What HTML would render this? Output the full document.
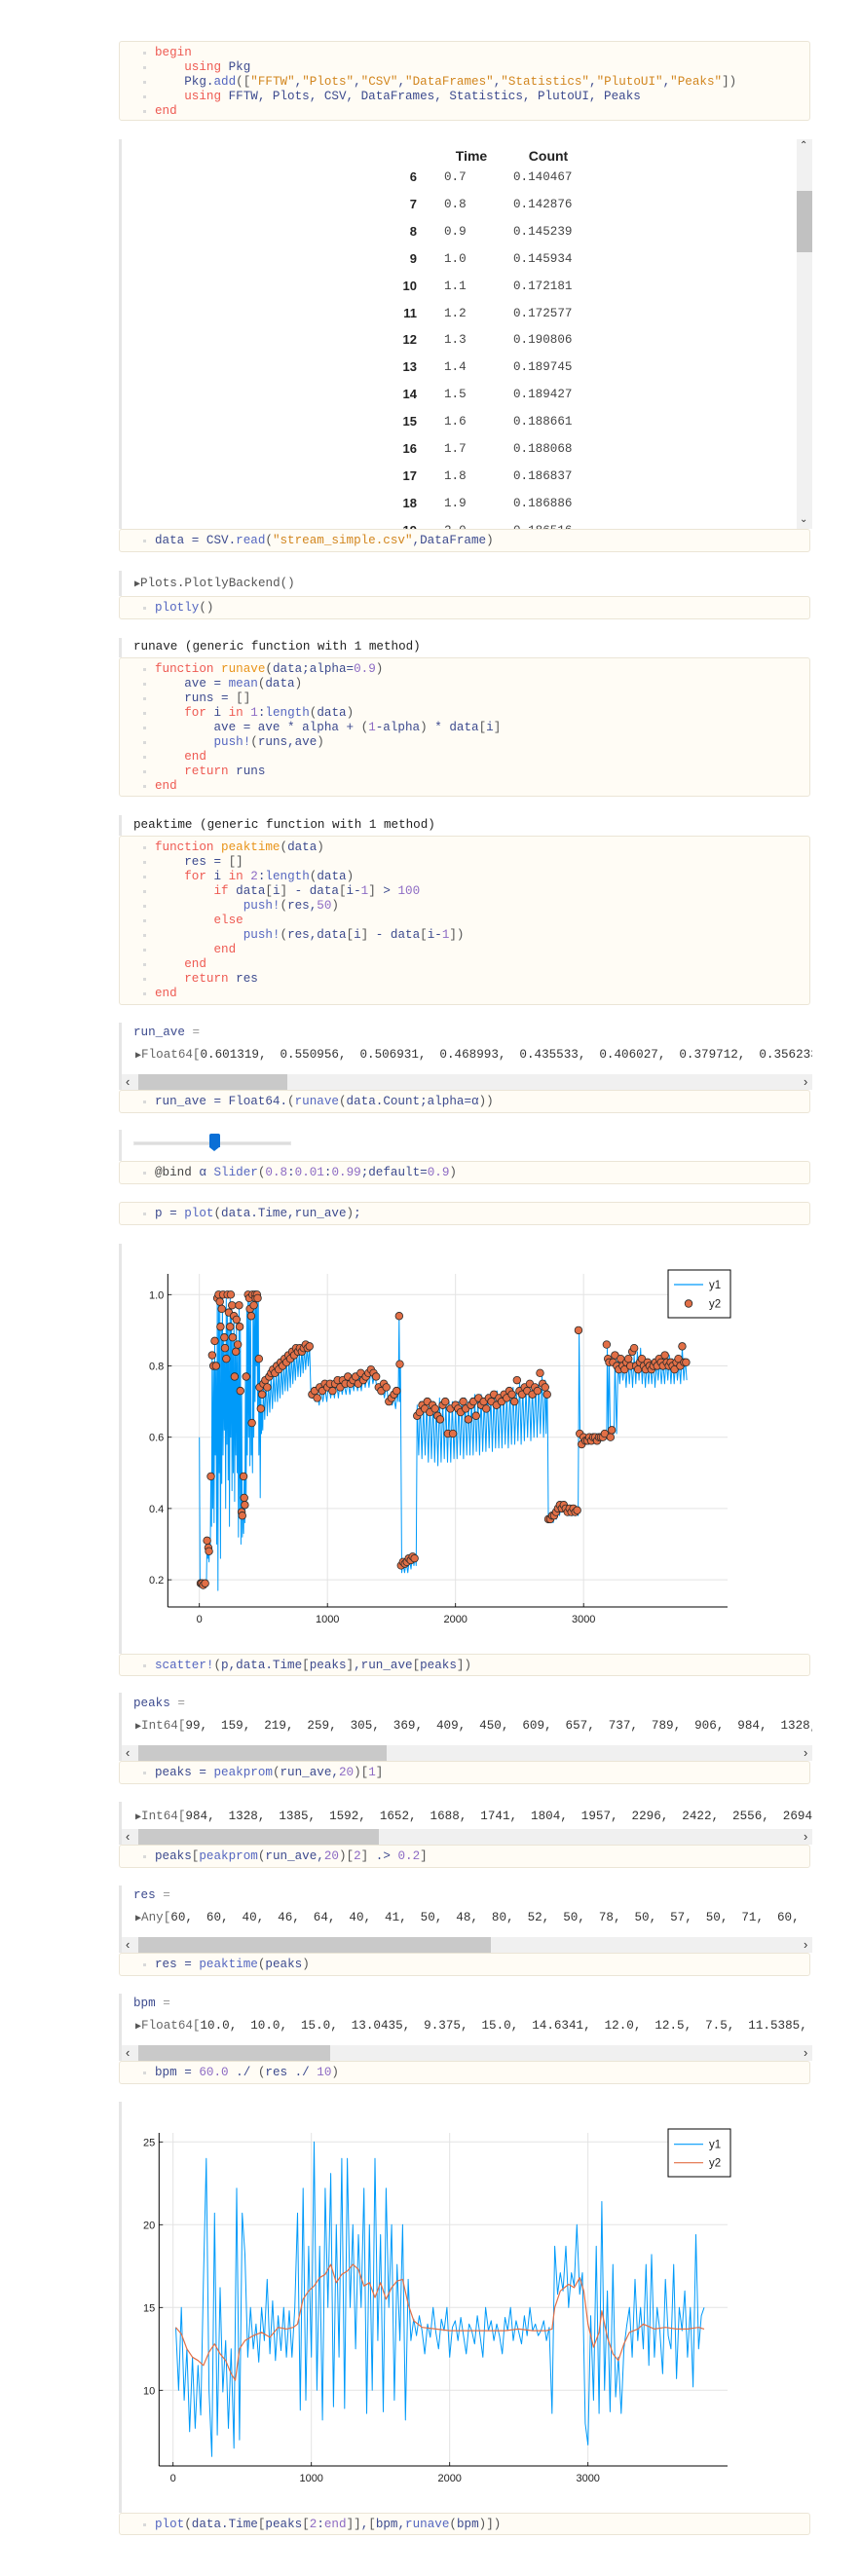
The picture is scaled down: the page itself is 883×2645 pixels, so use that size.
<!DOCTYPE html>
<html><head><meta charset="utf-8"><title>Pluto notebook</title>
<style>
html,body{margin:0;padding:0;background:#fff;}
body{width:883px;height:2645px;position:relative;overflow:hidden;font-family:"Liberation Mono",monospace;font-size:12.6px;color:#333;}
.cell{position:absolute;left:122px;width:712px;}
.out{position:absolute;left:0;width:709px;background:#fff;border-left:3px solid #e6e6e6;overflow:hidden;}
.code{position:absolute;left:0;width:710px;background:#fffcf5;border:1px solid #ebe5d6;border-radius:3px;}
.ln{position:relative;height:15px;line-height:15px;padding-left:36px;white-space:pre;color:#3c4a8e;}
.ln::before{content:"";position:absolute;left:24px;top:6px;width:3px;height:3px;background:#d9d9d9;}
.k{color:#ee5a52}.fn{color:#e8941a}.s{color:#d2861f}.n{color:#8d6bc4}.f{color:#5466c0}.o{color:#555}
.txt{position:absolute;left:10px;white-space:pre;line-height:15px;}
.tri{color:#555;font-size:10px;}
.arr{word-spacing:6.4px;color:#333;}
.hs{position:absolute;left:0;width:709px;height:16px;background:#f0f0f0;}
.hs .th{position:absolute;left:17px;top:0;height:16px;background:#c9c9c9;}
.hs .la,.hs .ra{position:absolute;top:0;font-family:"Liberation Sans",sans-serif;font-size:13px;line-height:15px;color:#333;}
.tr{position:absolute;font-family:"Liberation Sans",sans-serif;}
.ix{position:absolute;width:40px;text-align:right;font-family:"Liberation Sans",sans-serif;font-weight:bold;font-size:13px;color:#222;}
.tv{position:absolute;color:#444;}
svg text{font-family:"Liberation Sans",sans-serif;}
</style></head>
<body>

<!-- cell 1 -->
<div class="cell" style="top:42px;height:84px;">
 <div class="code" style="top:0;height:82px;padding-top:4px;box-sizing:border-box;">
  <div class="ln"><span class="k">begin</span></div>
  <div class="ln">    <span class="k">using</span> Pkg</div>
  <div class="ln">    Pkg.<span class="f">add</span><span class="o">([</span><span class="s">"FFTW"</span>,<span class="s">"Plots"</span>,<span class="s">"CSV"</span>,<span class="s">"DataFrames"</span>,<span class="s">"Statistics"</span>,<span class="s">"PlutoUI"</span>,<span class="s">"Peaks"</span><span class="o">])</span></div>
  <div class="ln">    <span class="k">using</span> FFTW, Plots, CSV, DataFrames, Statistics, PlutoUI, Peaks</div>
  <div class="ln"><span class="k">end</span></div>
 </div>
</div>

<!-- cell 2 table -->
<div class="cell" style="top:143px;height:426px;">
 <div class="out" style="top:0;height:400px;">
  <div class="tr" style="left:339px;top:9px;width:40px;text-align:center;font-weight:bold;font-size:14px;color:#222;">Time</div>
  <div class="tr" style="left:413px;top:9px;width:50px;text-align:center;font-weight:bold;font-size:14px;color:#222;">Count</div>
  <div id="rows"></div>
  <div style="position:absolute;left:693px;top:0;width:16px;height:400px;background:#f1f1f1;">
   <div style="position:absolute;left:0;top:53px;width:16px;height:63px;background:#c1c1c1;"></div>
   <div style="position:absolute;left:3px;top:1px;font-size:10px;font-family:'Liberation Sans',sans-serif;">&#8963;</div>
   <div style="position:absolute;left:3px;top:385px;font-size:10px;font-family:'Liberation Sans',sans-serif;">&#8964;</div>
  </div>
 </div>
 <div class="code" style="top:400px;height:24px;padding-top:4px;box-sizing:border-box;">
  <div class="ln">data = CSV.<span class="f">read</span><span class="o">(</span><span class="s">"stream_simple.csv"</span>,DataFrame<span class="o">)</span></div>
 </div>
</div>

<!-- cell 3 plotly -->
<div class="cell" style="top:586px;height:51px;">
 <div class="out" style="top:0;height:26px;">
  <div class="txt" style="top:6px;left:13px;color:#555;"><span class="tri">&#9654;</span>Plots.PlotlyBackend()</div>
 </div>
 <div class="code" style="top:26px;height:24px;padding-top:4px;box-sizing:border-box;">
  <div class="ln"><span class="f">plotly</span><span class="o">()</span></div>
 </div>
</div>

<!-- cell 4 runave -->
<div class="cell" style="top:655px;height:164px;">
 <div class="out" style="top:0;height:20px;">
  <div class="txt" style="top:2px;left:12px;color:#222;">runave (generic function with 1 method)</div>
 </div>
 <div class="code" style="top:20px;height:143px;padding-top:4px;box-sizing:border-box;">
  <div class="ln"><span class="k">function</span> <span class="fn">runave</span><span class="o">(</span>data;alpha=<span class="n">0.9</span><span class="o">)</span></div>
  <div class="ln">    ave = <span class="f">mean</span><span class="o">(</span>data<span class="o">)</span></div>
  <div class="ln">    runs = <span class="o">[]</span></div>
  <div class="ln">    <span class="k">for</span> i <span class="k">in</span> <span class="n">1</span>:<span class="f">length</span><span class="o">(</span>data<span class="o">)</span></div>
  <div class="ln">        ave = ave * alpha + <span class="o">(</span><span class="n">1</span>-alpha<span class="o">)</span> * data<span class="o">[</span>i<span class="o">]</span></div>
  <div class="ln">        <span class="f">push!</span><span class="o">(</span>runs,ave<span class="o">)</span></div>
  <div class="ln">    <span class="k">end</span></div>
  <div class="ln">    <span class="k">return</span> runs</div>
  <div class="ln"><span class="k">end</span></div>
 </div>
</div>

<!-- cell 5 peaktime -->
<div class="cell" style="top:837px;height:196px;">
 <div class="out" style="top:0;height:21px;">
  <div class="txt" style="top:3px;left:12px;color:#222;">peaktime (generic function with 1 method)</div>
 </div>
 <div class="code" style="top:21px;height:174px;padding-top:4px;box-sizing:border-box;">
  <div class="ln"><span class="k">function</span> <span class="fn">peaktime</span><span class="o">(</span>data<span class="o">)</span></div>
  <div class="ln">    res = <span class="o">[]</span></div>
  <div class="ln">    <span class="k">for</span> i <span class="k">in</span> <span class="n">2</span>:<span class="f">length</span><span class="o">(</span>data<span class="o">)</span></div>
  <div class="ln">        <span class="k">if</span> data<span class="o">[</span>i<span class="o">]</span> - data<span class="o">[</span>i-<span class="n">1</span><span class="o">]</span> &gt; <span class="n">100</span></div>
  <div class="ln">            <span class="f">push!</span><span class="o">(</span>res,<span class="n">50</span><span class="o">)</span></div>
  <div class="ln">        <span class="k">else</span></div>
  <div class="ln">            <span class="f">push!</span><span class="o">(</span>res,data<span class="o">[</span>i<span class="o">]</span> - data<span class="o">[</span>i-<span class="n">1</span><span class="o">])</span></div>
  <div class="ln">        <span class="k">end</span></div>
  <div class="ln">    <span class="k">end</span></div>
  <div class="ln">    <span class="k">return</span> res</div>
  <div class="ln"><span class="k">end</span></div>
 </div>
</div>

<!-- cell 6 run_ave -->
<div class="cell" style="top:1050px;height:93px;">
 <div class="out" style="top:0;height:69px;">
  <div class="txt" style="top:3px;left:12px;color:#3c4a8e;">run_ave <span style="color:#999">=</span></div>
  <div class="txt" style="top:26px;left:14px;"><span class="tri">&#9654;</span><span style="color:#666">Float64[</span><span class="arr">0.601319, 0.550956, 0.506931, 0.468993, 0.435533, 0.406027, 0.379712, 0.356233, 0.335</span></div>
  <div class="hs" style="top:53px;"><span class="la" style="left:4px">&#8249;</span><div class="th" style="width:153px"></div><span class="ra" style="left:700px">&#8250;</span></div>
 </div>
 <div class="code" style="top:69px;height:24px;padding-top:4px;box-sizing:border-box;">
  <div class="ln">run_ave = Float64.<span class="o">(</span><span class="f">runave</span><span class="o">(</span>data.Count;alpha=α<span class="o">))</span></div>
 </div>
</div>

<!-- cell 7 slider -->
<div class="cell" style="top:1160px;height:57px;">
 <div class="out" style="top:0;height:32px;">
  <div style="position:absolute;left:12px;top:12px;width:160px;height:2px;background:#ddd;border:1px solid #e8e8e8;"></div>
  <div style="position:absolute;left:90px;top:4px;width:11px;height:14px;background:#0a6fd6;border-radius:2px 2px 0 0;"></div>
  <div style="position:absolute;left:90px;top:18px;width:0;height:0;border-left:5.5px solid transparent;border-right:5.5px solid transparent;border-top:4px solid #0a6fd6;"></div>
 </div>
 <div class="code" style="top:32px;height:24px;padding-top:4px;box-sizing:border-box;">
  <div class="ln"><span style="color:#444">@bind</span> α <span class="f">Slider</span><span class="o">(</span><span class="n">0.8</span>:<span class="n">0.01</span>:<span class="n">0.99</span>;default=<span class="n">0.9</span><span class="o">)</span></div>
 </div>
</div>

<!-- cell 8 p=plot -->
<div class="cell" style="top:1234px;height:25px;">
 <div class="code" style="top:0;height:24px;padding-top:4px;box-sizing:border-box;">
  <div class="ln">p = <span class="f">plot</span><span class="o">(</span>data.Time,run_ave<span class="o">)</span>;</div>
 </div>
</div>

<!-- cell 9 chart1 -->
<div class="cell" style="top:1277px;height:445px;">
 <div class="out" style="top:0;height:421px;"></div>
 <div class="code" style="top:421px;height:23px;padding-top:4px;box-sizing:border-box;">
  <div class="ln"><span class="f">scatter!</span><span class="o">(</span>p,data.Time<span class="o">[</span>peaks<span class="o">]</span>,run_ave<span class="o">[</span>peaks<span class="o">])</span></div>
 </div>
</div>

<!-- cell 10 peaks -->
<div class="cell" style="top:1738px;height:95px;">
 <div class="out" style="top:0;height:70px;">
  <div class="txt" style="top:4px;left:12px;color:#3c4a8e;">peaks <span style="color:#999">=</span></div>
  <div class="txt" style="top:27px;left:14px;"><span class="tri">&#9654;</span><span style="color:#666">Int64[</span><span class="arr">99, 159, 219, 259, 305, 369, 409, 450, 609, 657, 737, 789, 906, 984, 1328,</span></div>
  <div class="hs" style="top:54px;"><span class="la" style="left:4px">&#8249;</span><div class="th" style="width:255px"></div><span class="ra" style="left:700px">&#8250;</span></div>
 </div>
 <div class="code" style="top:70px;height:24px;padding-top:4px;box-sizing:border-box;">
  <div class="ln">peaks = <span class="f">peakprom</span><span class="o">(</span>run_ave,<span class="n">20</span><span class="o">)[</span><span class="n">1</span><span class="o">]</span></div>
 </div>
</div>

<!-- cell 11 filtered -->
<div class="cell" style="top:1850px;height:69px;">
 <div class="out" style="top:0;height:44px;">
  <div class="txt" style="top:8px;left:14px;"><span class="tri">&#9654;</span><span style="color:#666">Int64[</span><span class="arr">984, 1328, 1385, 1592, 1652, 1688, 1741, 1804, 1957, 2296, 2422, 2556, 2694,</span></div>
  <div class="hs" style="top:28px;"><span class="la" style="left:4px">&#8249;</span><div class="th" style="width:247px"></div><span class="ra" style="left:700px">&#8250;</span></div>
 </div>
 <div class="code" style="top:44px;height:24px;padding-top:4px;box-sizing:border-box;">
  <div class="ln">peaks<span class="o">[</span><span class="f">peakprom</span><span class="o">(</span>run_ave,<span class="n">20</span><span class="o">)[</span><span class="n">2</span><span class="o">]</span> .&gt; <span class="n">0.2</span><span class="o">]</span></div>
 </div>
</div>

<!-- cell 12 res -->
<div class="cell" style="top:1936px;height:94px;">
 <div class="out" style="top:0;height:69px;">
  <div class="txt" style="top:3px;left:12px;color:#3c4a8e;">res <span style="color:#999">=</span></div>
  <div class="txt" style="top:26px;left:14px;"><span class="tri">&#9654;</span><span style="color:#666">Any[</span><span class="arr">60, 60, 40, 46, 64, 40, 41, 50, 48, 80, 52, 50, 78, 50, 57, 50, 71, 60, 38,</span></div>
  <div class="hs" style="top:53px;"><span class="la" style="left:4px">&#8249;</span><div class="th" style="width:362px"></div><span class="ra" style="left:700px">&#8250;</span></div>
 </div>
 <div class="code" style="top:69px;height:24px;padding-top:4px;box-sizing:border-box;">
  <div class="ln">res = <span class="f">peaktime</span><span class="o">(</span>peaks<span class="o">)</span></div>
 </div>
</div>

<!-- cell 13 bpm -->
<div class="cell" style="top:2047px;height:94px;">
 <div class="out" style="top:0;height:69px;">
  <div class="txt" style="top:3px;left:12px;color:#3c4a8e;">bpm <span style="color:#999">=</span></div>
  <div class="txt" style="top:26px;left:14px;"><span class="tri">&#9654;</span><span style="color:#666">Float64[</span><span class="arr">10.0, 10.0, 15.0, 13.0435, 9.375, 15.0, 14.6341, 12.0, 12.5, 7.5, 11.5385,</span></div>
  <div class="hs" style="top:53px;"><span class="la" style="left:4px">&#8249;</span><div class="th" style="width:197px"></div><span class="ra" style="left:700px">&#8250;</span></div>
 </div>
 <div class="code" style="top:69px;height:24px;padding-top:4px;box-sizing:border-box;">
  <div class="ln">bpm = <span class="n">60.0</span> ./ <span class="o">(</span>res ./ <span class="n">10</span><span class="o">)</span></div>
 </div>
</div>

<!-- cell 14 chart2 -->
<div class="cell" style="top:2158px;height:446px;">
 <div class="out" style="top:0;height:422px;"></div>
 <div class="code" style="top:422px;height:23px;padding-top:4px;box-sizing:border-box;">
  <div class="ln"><span class="f">plot</span><span class="o">(</span>data.Time<span class="o">[</span>peaks<span class="o">[</span><span class="n">2</span>:<span class="n">end</span><span class="o">]]</span>,<span class="o">[</span>bpm,<span class="f">runave</span><span class="o">(</span>bpm<span class="o">)])</span></div>
 </div>
</div>

<svg id="charts" width="883" height="2645" style="position:absolute;left:0;top:0;pointer-events:none;"></svg>

<script>
// ---- table data ----
const rowIdx = [6,7,8,9,10,11,12,13,14,15,16,17,18,19];
const rowTime = ["0.7","0.8","0.9","1.0","1.1","1.2","1.3","1.4","1.5","1.6","1.7","1.8","1.9","2.0"];
const rowCount = ["0.140467","0.142876","0.145239","0.145934","0.172181","0.172577","0.190806","0.189745","0.189427","0.188661","0.188068","0.186837","0.186886","0.186516"];

// ---- chart 1 data ----
const c1Times = [0,10,20,30,40,50,60,70,80,90,100,110,120,130,140,150,160,170,180,190,200,210,220,230,240,250,260,270,280,290,300,310,320,330,340,350,360,370,380,390,400,410,420,430,440,450,460,470,480,490,500,520,540,560,580,600,620,640,660,680,700,720,740,760,780,800,820,840,860,870,890,920,950,980,1010,1040,1070,1100,1130,1160,1190,1220,1250,1280,1310,1340,1370,1400,1430,1460,1490,1520,1545,1560,1570,1590,1615,1640,1665,1685,1700,1725,1750,1775,1800,1825,1850,1875,1900,1925,1950,1975,2000,2025,2050,2075,2100,2125,2150,2175,2200,2225,2250,2275,2300,2325,2350,2375,2400,2425,2450,2475,2500,2525,2550,2575,2600,2625,2650,2675,2700,2715,2725,2750,2775,2800,2825,2850,2875,2900,2925,2950,2965,2980,3005,3030,3055,3080,3105,3130,3155,3175,3185,3200,3215,3230,3245,3270,3295,3320,3345,3370,3395,3420,3445,3470,3495,3520,3545,3570,3595,3620,3645,3670,3695,3720,3745,3770,3795];
const c1High = [.60,.19,.19,.19,.19,.19,.31,.29,.30,.49,.83,.80,.87,.80,.99,1.0,.98,.91,1.0,.88,.85,1.0,.95,.91,1.0,.97,.88,.94,.84,.92,.86,.97,.91,.73,.42,.49,.77,.96,1.0,.99,.95,.64,1.0,.98,1.0,.99,1.0,.82,.72,.68,.75,.76,.75,.77,.78,.78,.79,.80,.80,.82,.82,.83,.83,.84,.84,.85,.85,.85,.86,.73,.72,.73,.74,.74,.75,.75,.76,.76,.75,.76,.76,.77,.77,.78,.78,.79,.78,.75,.74,.75,.72,.71,.73,.94,.80,.25,.25,.26,.27,.27,.69,.70,.69,.70,.70,.70,.69,.71,.70,.70,.70,.70,.69,.70,.70,.71,.70,.71,.72,.71,.72,.71,.72,.72,.72,.73,.72,.73,.73,.73,.74,.73,.76,.74,.74,.75,.74,.75,.75,.78,.76,.75,.38,.38,.39,.40,.41,.41,.40,.40,.40,.40,.90,.61,.60,.60,.60,.60,.61,.61,.61,.62,.86,.82,.62,.62,.82,.82,.81,.81,.82,.82,.83,.84,.85,.82,.81,.81,.82,.81,.82,.81,.82,.83,.82,.82,.81,.85,.82];
const c1Low = [.19,.19,.18,.18,.18,.18,.26,.25,.27,.35,.40,.36,.55,.30,.17,.50,.26,.47,.55,.62,.40,.58,.48,.35,.60,.45,.50,.42,.55,.50,.32,.40,.30,.32,.33,.36,.40,.55,.60,.52,.55,.50,.60,.70,.80,.68,.55,.43,.61,.62,.65,.66,.67,.68,.70,.70,.71,.72,.73,.73,.74,.75,.76,.77,.77,.78,.79,.80,.80,.71,.70,.69,.70,.70,.71,.71,.71,.72,.72,.72,.73,.73,.73,.74,.74,.75,.74,.72,.71,.70,.69,.68,.70,.70,.22,.22,.22,.23,.24,.24,.55,.54,.55,.53,.54,.53,.52,.53,.54,.53,.53,.54,.54,.55,.54,.55,.55,.55,.56,.55,.56,.56,.57,.56,.57,.57,.57,.58,.57,.58,.58,.59,.58,.59,.60,.59,.60,.60,.61,.60,.61,.62,.36,.36,.37,.38,.39,.39,.38,.38,.38,.38,.60,.58,.58,.58,.59,.59,.59,.59,.60,.60,.62,.63,.60,.61,.61,.75,.76,.74,.75,.74,.75,.76,.75,.74,.75,.75,.74,.76,.75,.75,.76,.75,.75,.76,.75,.76,.76];
const c1PeakTimes = [10,20,30,45,60,70,75,90,100,110,120,130,140,150,160,165,175,185,195,200,210,220,230,240,245,255,260,270,275,285,290,300,310,315,320,330,335,345,350,355,365,380,390,395,405,410,415,425,435,440,450,455,465,470,480,490,500,515,530,545,560,575,590,605,620,635,650,665,680,695,710,725,740,755,770,785,800,815,830,845,860,880,900,920,940,960,980,1000,1020,1040,1060,1080,1100,1120,1140,1160,1180,1200,1220,1240,1260,1280,1300,1320,1340,1360,1380,1400,1420,1440,1460,1480,1500,1520,1540,1560,1565,1575,1590,1605,1620,1635,1650,1665,1680,1700,1720,1740,1760,1780,1800,1820,1840,1860,1880,1900,1920,1940,1960,1980,2000,2020,2040,2060,2080,2100,2120,2140,2160,2180,2200,2220,2240,2260,2280,2300,2320,2340,2360,2380,2400,2420,2440,2460,2480,2500,2520,2540,2560,2580,2600,2620,2640,2660,2680,2700,2715,2725,2740,2755,2770,2785,2800,2815,2830,2845,2860,2875,2890,2905,2920,2935,2950,2960,2970,2985,3000,3015,3030,3045,3060,3075,3090,3105,3120,3135,3150,3165,3180,3190,3200,3210,3220,3230,3245,3260,3275,3290,3305,3320,3335,3350,3365,3380,3395,3410,3425,3440,3455,3470,3485,3500,3515,3530,3545,3560,3575,3590,3605,3620,3635,3650,3665,3680,3695,3710,3725,3740,3755,3770,3785,3800];
const c1PeakVals = [.19,.19,.185,.19,.31,.29,.28,.49,.83,.80,.87,.80,.99,1.0,.98,.91,.96,1.0,.88,.85,.82,1.0,.95,.91,1.0,.97,.88,.94,.77,.84,.93,.86,.97,.91,.73,.39,.38,.49,.43,.41,.77,1.0,.99,.96,.94,.64,1.0,.97,1.0,.99,1.0,.99,.82,.74,.68,.72,.75,.76,.74,.77,.78,.79,.78,.80,.79,.81,.80,.82,.81,.83,.82,.84,.83,.85,.84,.85,.84,.85,.86,.85,.855,.72,.73,.71,.74,.73,.75,.74,.75,.73,.75,.76,.74,.76,.75,.77,.75,.76,.77,.75,.78,.76,.77,.78,.79,.78,.77,.74,.73,.75,.74,.70,.71,.72,.73,.94,.805,.24,.25,.245,.25,.26,.255,.265,.26,.66,.67,.69,.68,.70,.67,.69,.68,.66,.65,.69,.70,.61,.68,.61,.69,.68,.67,.70,.68,.65,.69,.70,.66,.71,.69,.70,.68,.71,.70,.72,.69,.71,.70,.72,.71,.73,.72,.70,.76,.73,.72,.74,.73,.75,.72,.74,.73,.78,.75,.74,.72,.37,.37,.38,.38,.39,.40,.41,.40,.41,.40,.39,.40,.39,.40,.39,.395,.90,.61,.58,.60,.59,.59,.60,.59,.60,.60,.59,.60,.60,.60,.61,.86,.82,.81,.60,.62,.81,.83,.80,.79,.82,.80,.79,.81,.82,.80,.84,.85,.80,.79,.81,.82,.80,.79,.81,.80,.79,.80,.81,.80,.82,.81,.80,.83,.81,.80,.81,.80,.79,.81,.82,.80,.855,.81,.81];
const c1XTicks = [0,1000,2000,3000];
const c1XTickLabels = ["0","1000","2000","3000"];
const c1YTicks = [0.2,0.4,0.6,0.8,1.0];
const c1YTickLabels = ["0.2","0.4","0.6","0.8","1.0"];

// ---- chart 2 data ----
const c2Times = [20,40,60,80,100,120,140,160,180,200,220,240,260,280,300,320,340,360,380,400,420,440,460,480,500,520,540,560,580,600,620,640,660,680,700,720,740,760,780,800,820,840,860,880,900,920,940,960,980,1000,1020,1040,1060,1080,1100,1120,1140,1160,1180,1200,1220,1240,1260,1280,1300,1320,1340,1360,1380,1400,1420,1440,1460,1480,1500,1520,1540,1560,1580,1600,1620,1640,1660,1680,1700,1720,1740,1760,1780,1800,1820,1840,1860,1880,1900,1920,1940,1960,1980,2000,2020,2040,2060,2080,2100,2120,2140,2160,2180,2200,2220,2240,2260,2280,2300,2320,2340,2360,2380,2400,2420,2440,2460,2480,2500,2520,2540,2560,2580,2600,2620,2640,2660,2680,2700,2720,2740,2760,2780,2800,2820,2840,2860,2880,2900,2920,2940,2960,2980,3000,3020,3040,3060,3080,3100,3120,3140,3160,3180,3200,3220,3240,3260,3280,3300,3320,3340,3360,3380,3400,3420,3440,3460,3480,3500,3520,3540,3560,3580,3600,3620,3640,3660,3680,3700,3720,3740,3760,3780,3800,3820,3840];
const c2Bpm = [13.8,10.0,15.0,9.4,12.5,7.5,12.0,7.7,11.5,8.5,16.7,24.0,10.0,6.0,20.7,7.3,16.2,9.9,13.0,7.7,12.5,6.5,22.2,7.0,20.7,18.2,12.0,15.0,12.5,14.0,11.7,15.0,13.0,16.7,12.2,15.4,11.8,14.5,12.4,15.0,12.0,14.8,12.0,15.0,20.7,8.8,22.2,9.4,18.7,12.0,25.0,10.0,18.7,8.2,22.2,15.0,23.1,9.0,20.0,12.0,24.0,8.9,24.0,15.0,20.0,12.5,19.4,15.0,22.2,8.6,20.0,10.0,24.0,13.0,19.4,8.7,22.2,15.0,20.0,9.4,17.6,13.0,20.0,8.2,16.7,13.0,14.3,13.3,14.5,13.6,12.2,14.0,13.2,15.0,13.5,12.5,14.3,13.6,15.0,12.0,13.8,14.2,13.0,14.4,13.3,12.2,14.0,13.6,12.8,14.5,13.3,12.0,15.0,13.6,14.2,13.0,14.0,13.3,12.2,14.4,13.6,15.0,13.0,14.2,13.5,12.8,14.5,13.3,15.0,13.6,14.0,13.3,13.6,14.2,13.0,13.8,8.6,18.7,15.8,17.1,16.0,18.7,15.0,17.1,16.3,20.0,15.8,17.1,8.0,6.7,14.5,9.4,18.7,8.6,21.4,10.0,16.0,8.7,17.6,9.6,12.0,8.6,12.5,13.9,15.0,12.0,16.7,13.0,15.0,12.5,17.6,11.5,18.2,12.0,15.0,13.6,11.0,16.7,13.3,12.5,17.6,10.7,15.0,13.6,16.0,12.0,15.0,10.2,19.4,12.5,14.5,15.0];
const c2AvgTimes = [20,60,100,140,180,220,260,300,340,380,420,450,480,520,580,640,700,760,820,870,900,940,980,1020,1060,1100,1140,1180,1220,1260,1300,1340,1380,1420,1460,1500,1540,1580,1620,1660,1700,1740,1800,1900,2000,2100,2200,2300,2400,2500,2600,2700,2740,2760,2800,2860,2900,2940,2970,3000,3040,3080,3100,3140,3180,3220,3260,3300,3360,3400,3480,3560,3640,3720,3800,3840];
const c2Avg = [13.8,13.4,12.5,12.0,11.8,11.5,12.3,12.8,12.2,11.8,11.0,10.6,12.5,13.0,13.3,13.5,13.2,13.8,13.7,13.8,14.0,15.5,16.0,16.3,16.8,17.0,17.6,16.5,17.0,17.2,17.6,17.3,16.3,16.5,15.6,16.5,15.5,16.2,16.6,16.7,15.2,14.2,13.8,13.7,13.6,13.6,13.6,13.6,13.6,13.7,13.6,13.6,13.7,15.0,16.0,16.4,16.2,16.8,16.0,14.0,12.6,13.5,14.8,13.2,12.2,11.8,12.8,13.5,13.7,14.0,13.7,13.8,13.7,13.7,13.8,13.7];
const c2XTicks = [0,1000,2000,3000];
const c2XTickLabels = ["0","1000","2000","3000"];
const c2YTicks = [10,15,20,25];
const c2YTickLabels = ["10","15","20","25"];

// ---- table rendering ----
const rowsEl = document.getElementById('rows');
for (let i = 0; i < rowIdx.length; i++) {
  const top = 31 + i * 27.9;
  const a = document.createElement('div');
  a.className = 'ix';
  a.style.left = '263px'; a.style.top = (top) + 'px';
  a.textContent = rowIdx[i];
  
  
  rowsEl.appendChild(a);
  const b = document.createElement('div');
  b.className = 'tv';
  b.style.left = '331px'; b.style.top = (top + 1) + 'px';
  b.textContent = rowTime[i];
  
  
  rowsEl.appendChild(b);
  const c = document.createElement('div');
  c.className = 'tv';
  c.style.left = '402px'; c.style.top = (top + 1) + 'px';
  c.textContent = rowCount[i];
  
  
  rowsEl.appendChild(c);
}

// ---- chart helpers ----
const svg = document.getElementById('charts');
const NS = 'http://www.w3.org/2000/svg';
function mk(tag, attrs) {
  const e = document.createElementNS(NS, tag);
  for (const k in attrs) e.setAttribute(k, attrs[k]);
  svg.appendChild(e);
  return e;
}

function drawFrame(cfg) {
  // gridlines
  cfg.xTicks.forEach((t, i) => {
    const x = cfg.X(t);
    const g = mk('line', {x1: x, x2: x, y1: cfg.top, y2: cfg.bottom, stroke: '#e3e3e3', 'stroke-width': 1});
    
    
    const tk = mk('line', {x1: x, x2: x, y1: cfg.bottom, y2: cfg.bottom - 4, stroke: '#000', 'stroke-width': 0.8});
    
    
    const lb = mk('text', {x: x, y: cfg.bottom + 16, 'text-anchor': 'middle', 'font-size': 11, fill: '#222'});
    lb.textContent = cfg.xLabels[i];
    
    
  });
  cfg.yTicks.forEach((v, i) => {
    const y = cfg.Y(v);
    const g = mk('line', {x1: cfg.left, x2: cfg.right, y1: y, y2: y, stroke: '#e3e3e3', 'stroke-width': 1});
    
    
    const tk = mk('line', {x1: cfg.left, x2: cfg.left + 4, y1: y, y2: y, stroke: '#000', 'stroke-width': 0.8});
    
    
    const lb = mk('text', {x: cfg.left - 4, y: y + 4, 'text-anchor': 'end', 'font-size': 11, fill: '#222'});
    lb.textContent = cfg.yLabels[i];
    
    
  });
}
function drawAxes(cfg) {
  const ax = mk('line', {x1: cfg.left, x2: cfg.right, y1: cfg.bottom, y2: cfg.bottom, stroke: '#000', 'stroke-width': 1});
  
  
  const ay = mk('line', {x1: cfg.left, x2: cfg.left, y1: cfg.top, y2: cfg.bottom, stroke: '#000', 'stroke-width': 1});
  
  
}

// ---- chart 1 ----
const C1 = {left: 172.3, right: 747, top: 1308, bottom: 1650,
  X: t => 204.7 + t * 0.1315, Y: v => 1329.3 + (1 - v) * 366,
  xTicks: c1XTicks, xLabels: c1XTickLabels, yTicks: c1YTicks, yLabels: c1YTickLabels};
drawFrame(C1);
let pts1 = [];
for (let i = 0; i < c1Times.length; i++) {
  const t = c1Times[i];
  const nt = i + 1 < c1Times.length ? c1Times[i + 1] : t + 20;
  pts1.push(C1.X(t).toFixed(1) + ',' + C1.Y(c1High[i]).toFixed(1));
  pts1.push(C1.X((t + nt) / 2).toFixed(1) + ',' + C1.Y(c1Low[i]).toFixed(1));
}
const line1 = mk('polyline', {points: pts1.join(' '), fill: 'none', stroke: '#009af9', 'stroke-width': 1, 'stroke-linejoin': 'round'});


for (let i = 0; i < c1PeakTimes.length; i++) {
  const c = mk('circle', {cx: C1.X(c1PeakTimes[i]), cy: C1.Y(c1PeakVals[i]), r: 3.8, fill: '#e26f46', stroke: '#2a2a2a', 'stroke-width': 0.8});
  
  
}
drawAxes(C1);
// legend 1
const lg1 = mk('rect', {x: 686, y: 1304, width: 64, height: 49, fill: '#fff', stroke: '#000', 'stroke-width': 1});


const l1a = mk('line', {x1: 692, x2: 722, y1: 1319, y2: 1319, stroke: '#009af9', 'stroke-width': 1.2});


const l1at = mk('text', {x: 728, y: 1323, 'font-size': 11.5, fill: '#222'});
l1at.textContent = 'y1';


const l1b = mk('circle', {cx: 707, cy: 1338.5, r: 3.8, fill: '#e26f46', stroke: '#2a2a2a', 'stroke-width': 0.8});


const l1bt = mk('text', {x: 728, y: 1342.5, 'font-size': 11.5, fill: '#222'});
l1bt.textContent = 'y2';



// ---- chart 2 ----
const C2 = {left: 163.3, right: 747, top: 2190, bottom: 2532,
  X: t => 177.7 + t * 0.142, Y: v => 2199.3 + (25 - v) * 17,
  xTicks: c2XTicks, xLabels: c2XTickLabels, yTicks: c2YTicks, yLabels: c2YTickLabels};
drawFrame(C2);
const p2 = c2Times.map((t, i) => C2.X(t).toFixed(1) + ',' + C2.Y(c2Bpm[i]).toFixed(1)).join(' ');
const line2 = mk('polyline', {points: p2, fill: 'none', stroke: '#009af9', 'stroke-width': 1, 'stroke-linejoin': 'round'});


const p3 = c2AvgTimes.map((t, i) => C2.X(t).toFixed(1) + ',' + C2.Y(c2Avg[i]).toFixed(1)).join(' ');
const line3 = mk('polyline', {points: p3, fill: 'none', stroke: '#e26f46', 'stroke-width': 1.2, 'stroke-linejoin': 'round'});


drawAxes(C2);
const lg2 = mk('rect', {x: 686, y: 2186, width: 64, height: 49, fill: '#fff', stroke: '#000', 'stroke-width': 1});


const l2a = mk('line', {x1: 692, x2: 722, y1: 2201.7, y2: 2201.7, stroke: '#009af9', 'stroke-width': 1.2});


const l2at = mk('text', {x: 728, y: 2205.7, 'font-size': 11.5, fill: '#222'});
l2at.textContent = 'y1';


const l2b = mk('line', {x1: 692, x2: 722, y1: 2220.7, y2: 2220.7, stroke: '#e26f46', 'stroke-width': 1.2});


const l2bt = mk('text', {x: 728, y: 2224.7, 'font-size': 11.5, fill: '#222'});
l2bt.textContent = 'y2';


</script>
</body></html>
